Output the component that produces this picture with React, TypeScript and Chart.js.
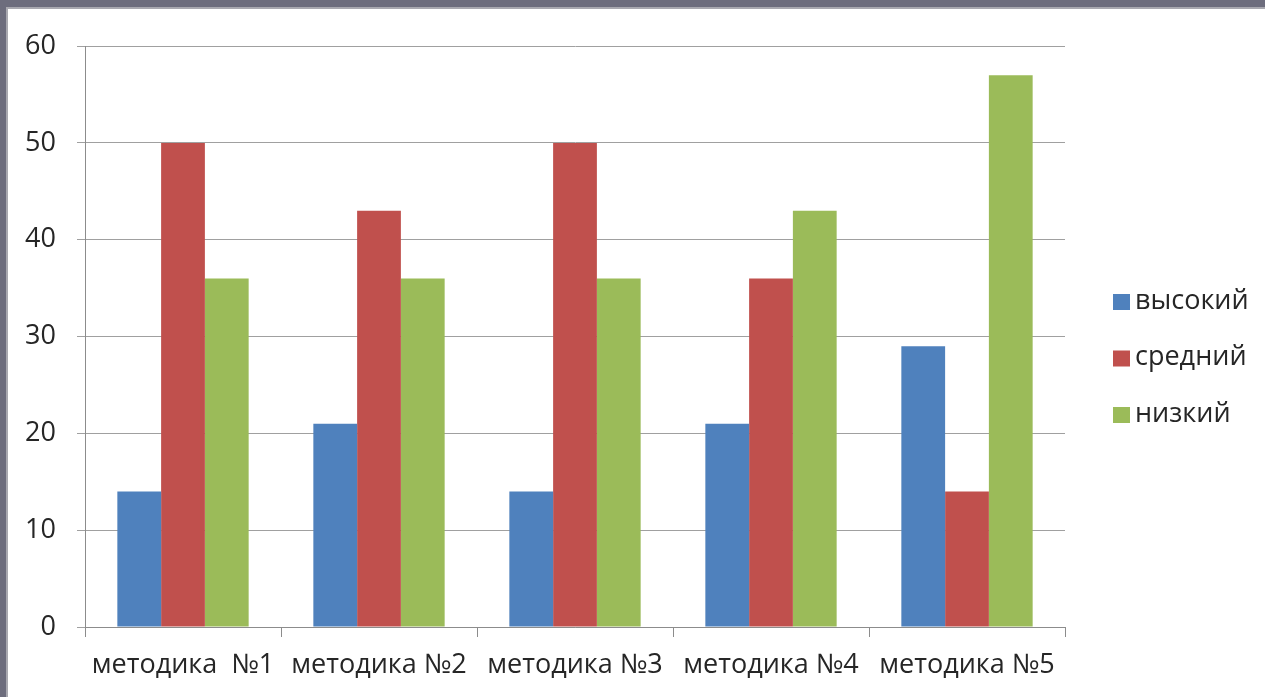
import React, { useEffect, useRef } from "react";
import { Chart, registerables } from "chart.js";

Chart.register(...registerables);

const categories = ["методика  №1", "методика №2", "методика №3", "методика №4", "методика №5"];
const seriesNames = ["высокий", "средний", "низкий"];
const highValues = [14, 21, 14, 21, 29];
const midValues = [50, 43, 50, 36, 14];
const lowValues = [36, 36, 36, 43, 57];
const seriesColors = ["#4F81BD", "#C0504D", "#9BBB59"];

const FONT = "'Open Sans', 'Noto Sans', sans-serif";
const TEXT_COLOR = "#262626";

const sideLegend = {
  id: "sideLegend",
  afterDraw(chart: any) {
    const ctx = chart.ctx;
    ctx.save();
    ctx.font = `27px ${FONT}`;
    ctx.textBaseline = "middle";
    ctx.textAlign = "left";
    chart.data.datasets.forEach((ds: any, i: number) => {
      const cy = 292 + i * 56.5;
      ctx.fillStyle = ds.backgroundColor;
      ctx.fillRect(1105, cy - 7, 17, 16);
      ctx.fillStyle = TEXT_COLOR;
      ctx.fillText(ds.label, 1127, cy);
    });
    ctx.restore();
  },
};

export default function App() {
  const canvasRef = useRef<HTMLCanvasElement | null>(null);

  useEffect(() => {
    const prevMargin = document.body.style.margin;
    document.body.style.margin = "0";
    const canvas = canvasRef.current;
    if (!canvas) return;
    const valuesList = [highValues, midValues, lowValues];
    const chart = new Chart(canvas, {
      type: "bar",
      data: {
        labels: categories,
        datasets: seriesNames.map((name, i) => ({
          label: name,
          data: valuesList[i],
          backgroundColor: seriesColors[i],
          borderWidth: 0,
          categoryPercentage: 0.67,
          barPercentage: 1.0,
        })),
      },
      options: {
        animation: false,
        responsive: false,
        maintainAspectRatio: false,
        layout: { padding: { top: 34, right: 200, bottom: 0, left: 0 } },
        plugins: {
          legend: { display: false },
          tooltip: { enabled: false },
          title: { display: false },
        },
        scales: {
          x: {
            offset: true,
            grid: {
              display: true,
              offset: true,
              drawOnChartArea: false,
              drawTicks: true,
              tickLength: 10,
              color: "#8c8c8c",
            },
            border: { display: true, color: "#8c8c8c", width: 1 },
            ticks: {
              color: TEXT_COLOR,
              font: { family: FONT, size: 27 },
              padding: 12,
              maxRotation: 0,
              autoSkip: false,
            },
            afterFit(scale: any) {
              scale.height = 70;
            },
          },
          y: {
            min: 0,
            max: 60,
            ticks: {
              stepSize: 10,
              color: TEXT_COLOR,
              font: { family: FONT, size: 27 },
              padding: 21,
            },
            grid: {
              color: "#a0a0a0",
              tickLength: 8,
              drawTicks: true,
            },
            border: { display: true, color: "#8c8c8c", width: 1 },
            afterFit(scale: any) {
              scale.width = 77;
            },
          },
        },
      },
      plugins: [sideLegend],
    });
    return () => {
      chart.destroy();
      document.body.style.margin = prevMargin;
    };
  }, []);

  return (
    <div
      style={{
        position: "fixed",
        left: 0,
        top: 0,
        right: 0,
        bottom: 0,
        background: "#6d6d7d",
        overflow: "hidden",
      }}
    >
      <div
        style={{
          position: "absolute",
          left: 6,
          top: 7,
          right: -20,
          bottom: -20,
          background: "#a9a9b0",
        }}
      />
      <div
        style={{
          position: "absolute",
          left: 8,
          top: 9,
          right: -20,
          bottom: -20,
          background: "#ffffff",
          overflow: "hidden",
        }}
      >
        <canvas ref={canvasRef} width={1257} height={688} style={{ display: "block" }} />
      </div>
    </div>
  );
}
